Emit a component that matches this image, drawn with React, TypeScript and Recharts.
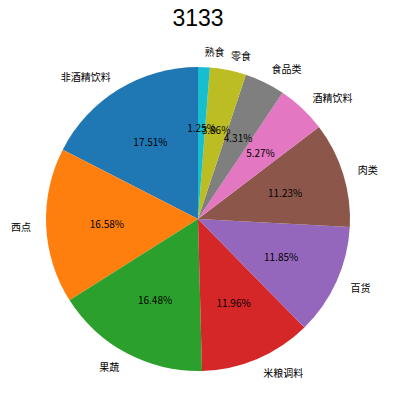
import React from 'react';
import { PieChart, Pie, Cell } from 'recharts';

const categories = ['非酒精饮料', '西点', '果蔬', '米粮调料', '百货', '肉类', '酒精饮料', '食品类', '零食', '熟食'];
const shares = [17.51, 16.58, 16.48, 11.96, 11.85, 11.23, 5.27, 4.31, 3.86, 1.25];
const COLORS = ['#1f77b4', '#ff7f0e', '#2ca02c', '#d62728', '#9467bd', '#8c564b', '#e377c2', '#7f7f7f', '#bcbd22', '#17becf'];
const title = '3133';

const chartData = categories.map((name, i) => ({ name, value: shares[i] }));

const RAD = Math.PI / 180;
const LABEL_FONT = '"Noto Sans CJK SC", "Noto Sans", sans-serif';

const renderLabel = (props: any) => {
  const { cx, cy, midAngle, outerRadius, name, value } = props;
  const cos = Math.cos(-midAngle * RAD);
  const sin = Math.sin(-midAngle * RAD);
  const lx = cx + outerRadius * 1.1 * cos;
  const ly = cy + outerRadius * 1.1 * sin;
  const px = cx + outerRadius * 0.6 * cos;
  const py = cy + outerRadius * 0.6 * sin;
  return (
    <g>
      <text
        x={lx}
        y={ly}
        textAnchor={lx < cx ? 'end' : 'start'}
        dominantBaseline="central"
        fontSize={10}
        fontFamily={LABEL_FONT}
        fill="#000"
      >
        {name}
      </text>
      <text
        x={px}
        y={py}
        textAnchor="middle"
        dominantBaseline="central"
        fontSize={10}
        fontFamily={LABEL_FONT}
        fill="#000"
      >
        {`${Number(value).toFixed(2)}%`}
      </text>
    </g>
  );
};

const App: React.FC = () => {
  return (
    <div style={{ position: 'absolute', left: 0, top: 0, width: 394, height: 416, background: '#fff' }}>
      <PieChart width={394} height={416} margin={{ top: 0, right: 0, bottom: 0, left: 0 }}>
        <text
          x={198}
          y={18}
          textAnchor="middle"
          dominantBaseline="central"
          fontSize={23}
          fontFamily='"Liberation Sans", Arial, sans-serif'
          fill="#000"
        >
          {title}
        </text>
        <Pie
          data={chartData}
          dataKey="value"
          nameKey="name"
          cx={198}
          cy={219}
          outerRadius={152}
          startAngle={90}
          endAngle={450}
          stroke="none"
          labelLine={false}
          label={renderLabel}
          isAnimationActive={false}
        >
          {chartData.map((entry, index) => (
            <Cell key={`cell-${index}`} fill={COLORS[index % COLORS.length]} />
          ))}
        </Pie>
      </PieChart>
    </div>
  );
};

export default App;
